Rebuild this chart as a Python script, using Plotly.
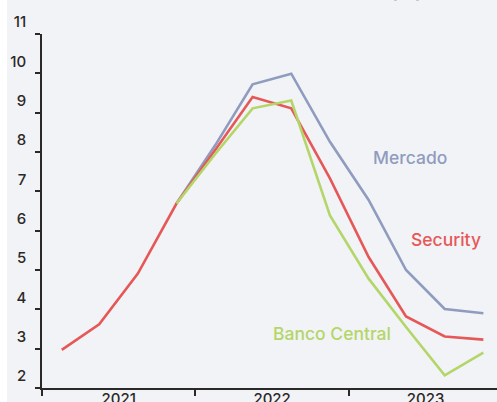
import plotly.graph_objects as go

# Quarterly inflation expectations (%), mid-quarter dates
quarters = ["2021-02-17", "2021-05-17", "2021-08-17", "2021-11-17",
            "2022-02-17", "2022-05-17", "2022-08-17", "2022-11-17",
            "2023-02-17", "2023-05-17", "2023-08-17", "2023-11-17"]

security = [2.97, 3.62, 4.91, 6.69, 8.05, 9.40, 9.11, 7.33, 5.33, 3.82, 3.31, 3.23]
mercado = [None, None, None, 6.69, 8.17, 9.72, 9.99, 8.26, 6.78, 5.00, 4.01, 3.90]
banco_central = [None, None, None, 6.69, 7.95, 9.11, 9.31, 6.39, 4.78, 3.55, 2.32, 2.90]

y_ticks = [2, 3, 4, 5, 6, 7, 8, 9, 10, 11]

BG = "#f2f3f6"
AXIS = "#2b2828"
FONT = "Inter, Lato, sans-serif"

C_MERCADO = "#8f9cbf"
C_SECURITY = "#e65858"
C_BCENTRAL = "#b4d669"

fig = go.Figure()

for name, vals, color in [("Mercado", mercado, C_MERCADO),
                          ("Security", security, C_SECURITY),
                          ("Banco Central", banco_central, C_BCENTRAL)]:
    fig.add_trace(go.Scatter(x=quarters, y=vals, name=name, mode="lines",
                             line=dict(color=color, width=2.6),
                             connectgaps=False, hoverinfo="skip"))

# Series labels placed next to their lines
labels = [("Mercado", "2023-05-26", 7.86, C_MERCADO),
          ("Security", "2023-08-21", 5.78, C_SECURITY),
          ("Banco Central", "2022-11-23", 3.38, C_BCENTRAL)]
for text, x, y, color in labels:
    fig.add_annotation(x=x, y=y, xref="x", yref="y", text=text, showarrow=False,
                       font=dict(family=FONT, size=17.5, color=color, weight=500),
                       xanchor="center", yanchor="middle")

# Chart title (sits above the visible canvas)
fig.add_annotation(x=(424 - 42) / 455, y=1 + (34 - 5) / 354, xref="paper", yref="paper",
                   text="<b>Inflación IPC anual (%)</b>", showarrow=False,
                   font=dict(family=FONT, size=18, color=AXIS),
                   xanchor="right", yanchor="bottom")

# Canvas background with a narrow white band at the left edge
fig.add_shape(type="rect", xref="paper", yref="paper",
              x0=(7 - 42) / 455, x1=1.02, y0=-0.06, y1=1.12,
              fillcolor=BG, line=dict(width=0), layer="below")

fig.update_layout(
    width=497, height=402,
    margin=dict(l=42, r=0, t=34, b=14, autoexpand=False),
    paper_bgcolor="white",
    plot_bgcolor="rgba(0,0,0,0)",
    showlegend=False,
    font=dict(family=FONT, color=AXIS),
)

fig.update_xaxes(
    type="date",
    range=["2021-01-01", "2023-12-19 10:00"],
    tickmode="linear", tick0="2021-01-01", dtick="M12",
    tickformat="%Y",
    ticklabelmode="period",
    ticks="outside", ticklen=6, tickwidth=1.5, tickcolor=AXIS,
    showline=True, linecolor=AXIS, linewidth=1.5,
    showgrid=False, zeroline=False, automargin=False,
    ticklabelstandoff=-10,
    tickfont=dict(family=FONT, size=15, color=AXIS, weight=500),
)

fig.update_yaxes(
    range=[2, 11],
    tickvals=y_ticks,
    ticks="outside", ticklen=5, tickwidth=1.5, tickcolor=AXIS,
    showline=True, linecolor=AXIS, linewidth=1.5,
    showgrid=False, zeroline=False, automargin=False,
    ticklabelstandoff=6, ticklabelshift=-12,
    tickfont=dict(family=FONT, size=15, color=AXIS, weight=500),
)

fig.write_html("out.html")
